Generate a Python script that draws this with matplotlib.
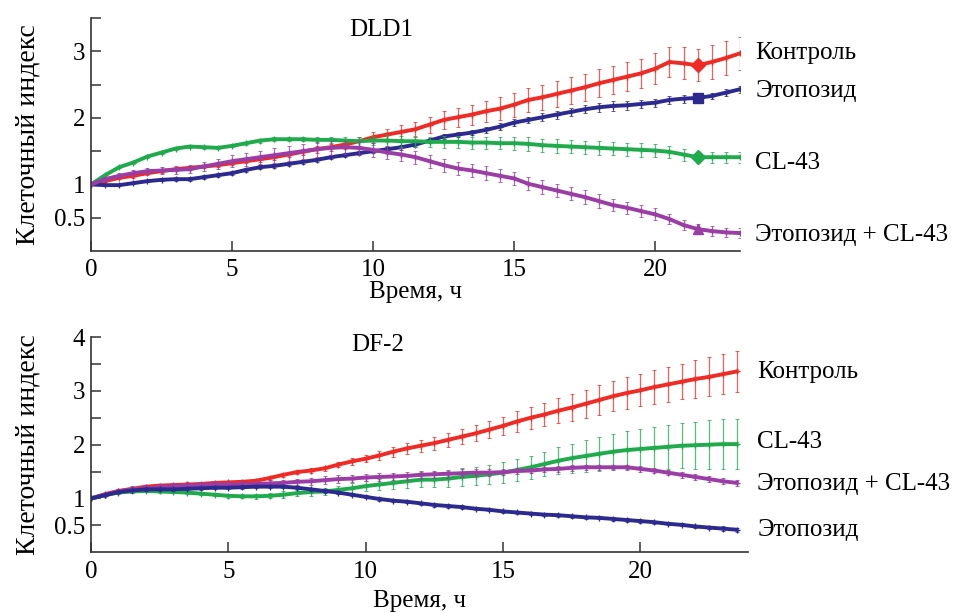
import matplotlib
matplotlib.use('Agg')
import matplotlib.pyplot as plt
import numpy as np

plt.rcParams['font.family'] = ['Liberation Serif', 'DejaVu Serif']
fs = 18

# --- DLD1, readings every 0.5 h from 0 to 23 h
t_dld = np.arange(0, 23.01, 0.5)
dld_ctrl = [1.00, 1.05, 1.10, 1.13, 1.17, 1.20, 1.23, 1.25, 1.27, 1.29,
            1.32, 1.35, 1.38, 1.41, 1.45, 1.49, 1.53, 1.56, 1.60, 1.65,
            1.71, 1.75, 1.79, 1.83, 1.90, 1.97, 2.01, 2.05, 2.10, 2.14,
            2.20, 2.27, 2.31, 2.36, 2.41, 2.46, 2.52, 2.57, 2.62, 2.67,
            2.74, 2.84, 2.82, 2.79, 2.84, 2.90, 2.97]
dld_ctrl_err = [0.01, 0.02, 0.02, 0.03, 0.03, 0.03, 0.03, 0.03, 0.03, 0.03,
                0.03, 0.03, 0.04, 0.04, 0.04, 0.04, 0.05, 0.05, 0.06, 0.07,
                0.08, 0.09, 0.10, 0.11, 0.12, 0.13, 0.14, 0.15, 0.16, 0.17,
                0.18, 0.18, 0.19, 0.19, 0.20, 0.20, 0.21, 0.21, 0.22, 0.22,
                0.23, 0.23, 0.24, 0.24, 0.25, 0.25, 0.25]
dld_etop = [1.00, 0.99, 0.99, 1.02, 1.05, 1.07, 1.08, 1.08, 1.11, 1.14,
            1.17, 1.22, 1.26, 1.28, 1.31, 1.34, 1.37, 1.41, 1.44, 1.47,
            1.50, 1.53, 1.56, 1.60, 1.66, 1.72, 1.75, 1.78, 1.82, 1.87,
            1.93, 1.97, 2.01, 2.05, 2.09, 2.13, 2.16, 2.18, 2.19, 2.21,
            2.23, 2.27, 2.29, 2.30, 2.33, 2.38, 2.43]
dld_etop_err = [0.01, 0.02, 0.02, 0.02, 0.02, 0.02, 0.03, 0.03, 0.03, 0.03,
                0.03, 0.03, 0.03, 0.03, 0.03, 0.03, 0.03, 0.03, 0.03, 0.03,
                0.03, 0.03, 0.04, 0.04, 0.04, 0.04, 0.04, 0.04, 0.05, 0.05,
                0.05, 0.05, 0.06, 0.06, 0.06, 0.06, 0.07, 0.07, 0.07, 0.06,
                0.06, 0.06, 0.06, 0.05, 0.05, 0.05, 0.05]
dld_cl = [1.00, 1.14, 1.26, 1.33, 1.42, 1.48, 1.54, 1.57, 1.56, 1.55,
          1.58, 1.62, 1.66, 1.68, 1.68, 1.68, 1.67, 1.67, 1.66, 1.65,
          1.66, 1.66, 1.65, 1.65, 1.64, 1.64, 1.64, 1.63, 1.63, 1.62,
          1.62, 1.61, 1.59, 1.58, 1.57, 1.56, 1.55, 1.54, 1.53, 1.52,
          1.51, 1.49, 1.45, 1.41, 1.41, 1.41, 1.41]
dld_cl_err = [0.01, 0.02, 0.02, 0.02, 0.02, 0.02, 0.02, 0.02, 0.02, 0.02,
              0.02, 0.02, 0.03, 0.03, 0.03, 0.03, 0.04, 0.05, 0.06, 0.07,
              0.07, 0.08, 0.08, 0.08, 0.08, 0.09, 0.09, 0.09, 0.09, 0.09,
              0.10, 0.10, 0.10, 0.10, 0.10, 0.10, 0.10, 0.10, 0.10, 0.10,
              0.10, 0.09, 0.09, 0.08, 0.08, 0.08, 0.08]
dld_mix = [1.00, 1.08, 1.13, 1.17, 1.20, 1.21, 1.22, 1.23, 1.27, 1.31,
           1.35, 1.38, 1.41, 1.44, 1.47, 1.50, 1.53, 1.55, 1.56, 1.55,
           1.52, 1.48, 1.45, 1.41, 1.35, 1.29, 1.24, 1.21, 1.17, 1.13,
           1.09, 1.01, 0.96, 0.91, 0.86, 0.81, 0.75, 0.69, 0.65, 0.60,
           0.55, 0.48, 0.39, 0.33, 0.30, 0.28, 0.27]
dld_mix_err = [0.01, 0.03, 0.04, 0.05, 0.05, 0.05, 0.06, 0.06, 0.07, 0.08,
               0.09, 0.10, 0.10, 0.11, 0.11, 0.11, 0.11, 0.11, 0.10, 0.10,
               0.10, 0.10, 0.10, 0.10, 0.10, 0.10, 0.10, 0.10, 0.10, 0.10,
               0.10, 0.10, 0.10, 0.10, 0.10, 0.10, 0.10, 0.09, 0.09, 0.09,
               0.09, 0.08, 0.08, 0.07, 0.07, 0.07, 0.07]

# --- DF-2, readings every 0.5 h from 0 to 23.5 h
t_df = np.arange(0, 23.51, 0.5)
df_ctrl = [1.00, 1.08, 1.14, 1.18, 1.22, 1.24, 1.25, 1.26, 1.27, 1.29,
           1.30, 1.31, 1.33, 1.38, 1.44, 1.49, 1.52, 1.56, 1.63, 1.69,
           1.74, 1.80, 1.87, 1.93, 1.98, 2.03, 2.09, 2.15, 2.21, 2.28,
           2.35, 2.43, 2.50, 2.56, 2.63, 2.69, 2.76, 2.83, 2.90, 2.96,
           3.01, 3.07, 3.12, 3.17, 3.22, 3.26, 3.31, 3.36]
df_ctrl_err = [0.01, 0.02, 0.02, 0.02, 0.02, 0.02, 0.03, 0.03, 0.03, 0.03,
               0.03, 0.03, 0.03, 0.03, 0.04, 0.04, 0.04, 0.05, 0.05, 0.06,
               0.07, 0.08, 0.09, 0.10, 0.11, 0.12, 0.13, 0.14, 0.15, 0.16,
               0.17, 0.19, 0.20, 0.22, 0.23, 0.25, 0.26, 0.27, 0.28, 0.29,
               0.30, 0.31, 0.32, 0.33, 0.35, 0.36, 0.37, 0.38]
df_cl = [1.00, 1.06, 1.11, 1.13, 1.14, 1.13, 1.12, 1.11, 1.09, 1.07,
         1.05, 1.04, 1.04, 1.05, 1.07, 1.10, 1.12, 1.13, 1.16, 1.19,
         1.23, 1.26, 1.29, 1.32, 1.35, 1.35, 1.37, 1.40, 1.42, 1.45,
         1.48, 1.53, 1.58, 1.64, 1.70, 1.75, 1.79, 1.83, 1.87, 1.90,
         1.92, 1.94, 1.96, 1.98, 1.99, 2.00, 2.01, 2.01]
df_cl_err = [0.01, 0.02, 0.02, 0.02, 0.02, 0.02, 0.02, 0.02, 0.03, 0.03,
             0.04, 0.04, 0.05, 0.05, 0.06, 0.06, 0.07, 0.07, 0.08, 0.09,
             0.10, 0.11, 0.12, 0.13, 0.14, 0.14, 0.15, 0.16, 0.17, 0.18,
             0.19, 0.20, 0.21, 0.23, 0.25, 0.27, 0.29, 0.31, 0.33, 0.35,
             0.37, 0.39, 0.41, 0.42, 0.44, 0.45, 0.46, 0.47]
df_mix = [1.00, 1.07, 1.13, 1.17, 1.19, 1.21, 1.23, 1.24, 1.25, 1.26,
          1.26, 1.26, 1.27, 1.28, 1.29, 1.31, 1.32, 1.34, 1.36, 1.37,
          1.39, 1.40, 1.41, 1.42, 1.44, 1.45, 1.46, 1.47, 1.48, 1.48,
          1.49, 1.51, 1.52, 1.54, 1.55, 1.57, 1.58, 1.58, 1.58, 1.58,
          1.55, 1.52, 1.48, 1.44, 1.40, 1.36, 1.32, 1.29]
df_mix_err = [0.01, 0.04, 0.05, 0.06, 0.06, 0.06, 0.06, 0.06, 0.06, 0.06,
              0.06, 0.06, 0.06, 0.06, 0.06, 0.06, 0.07, 0.07, 0.07, 0.07,
              0.07, 0.07, 0.07, 0.07, 0.07, 0.07, 0.07, 0.07, 0.06, 0.06,
              0.06, 0.05, 0.05, 0.05, 0.05, 0.05, 0.05, 0.05, 0.05, 0.05,
              0.05, 0.05, 0.05, 0.05, 0.06, 0.06, 0.06, 0.06]
df_etop = [1.00, 1.06, 1.12, 1.15, 1.17, 1.17, 1.17, 1.18, 1.19, 1.20,
           1.20, 1.21, 1.22, 1.22, 1.22, 1.20, 1.17, 1.14, 1.11, 1.07,
           1.03, 0.99, 0.96, 0.94, 0.91, 0.88, 0.86, 0.84, 0.81, 0.79,
           0.76, 0.74, 0.72, 0.70, 0.69, 0.67, 0.65, 0.64, 0.62, 0.60,
           0.58, 0.56, 0.53, 0.51, 0.48, 0.46, 0.44, 0.42]
df_etop_err = [0.01, 0.02, 0.02, 0.02, 0.03, 0.03, 0.03, 0.03, 0.03, 0.03,
               0.03, 0.03, 0.03, 0.03, 0.03, 0.03, 0.03, 0.03, 0.03, 0.03,
               0.03, 0.03, 0.03, 0.03, 0.03, 0.03, 0.03, 0.03, 0.03, 0.03,
               0.03, 0.03, 0.03, 0.03, 0.03, 0.03, 0.03, 0.03, 0.03, 0.03,
               0.03, 0.03, 0.03, 0.03, 0.03, 0.03, 0.04, 0.04]

c_red = '#ee2b25'
c_blue = '#2c2a8f'
c_green = '#1faa4c'
c_purple = '#9a3da4'

dld_series = [
    (dld_ctrl, dld_ctrl_err, c_red, 'D', 'Контроль', 2.97),
    (dld_etop, dld_etop_err, c_blue, 's', 'Этопозид', 2.40),
    (dld_cl, dld_cl_err, c_green, 'D', 'CL-43', 1.32),
    (dld_mix, dld_mix_err, c_purple, '^', 'Этопозид + CL-43', 0.24),
]
df_series = [
    (df_ctrl, df_ctrl_err, c_red, 'Контроль', 3.35),
    (df_cl, df_cl_err, c_green, 'CL-43', 2.05),
    (df_mix, df_mix_err, c_purple, 'Этопозид + CL-43', 1.26),
    (df_etop, df_etop_err, c_blue, 'Этопозид', 0.42),
]

fig = plt.figure(figsize=(9.6, 6.13), dpi=100)
ax1 = fig.add_axes([0.0948, 0.5905, 0.676, 0.380])
ax2 = fig.add_axes([0.0948, 0.099, 0.684, 0.3512])

mark_idx = 43  # t = 21.5 h

for vals, err, col, mk, name, ylab in dld_series:
    ax1.errorbar(t_dld, vals, yerr=err, color=col, ecolor=col, elinewidth=0.9,
                 capsize=1.5, capthick=0.7, alpha=0.75, linewidth=0)
    ax1.plot(t_dld, vals, color=col, linewidth=2.8, marker='+', markersize=5,
             markeredgewidth=1.0)
    ax1.plot(t_dld[mark_idx], vals[mark_idx], marker=mk, color=col, markersize=7)
    ax1.text(23.55, ylab, name, fontsize=fs, va='center', ha='left')

for vals, err, col, name, ylab in df_series:
    ax2.errorbar(t_df, vals, yerr=err, color=col, ecolor=col, elinewidth=0.9,
                 capsize=1.5, capthick=0.7, alpha=0.75, linewidth=0)
    ax2.plot(t_df, vals, color=col, linewidth=2.8, marker='+', markersize=5,
             markeredgewidth=1.0)
    ax2.text(24.25, ylab, name, fontsize=fs, va='center', ha='left')

ax1.set_xlim(0, 23)
ax1.set_ylim(0, 3.5)
ax1.set_yticks([0.5, 1, 1.5, 2, 2.5, 3, 3.5])
ax1.set_yticklabels(['0.5', '1', '', '2', '', '3', ''])
ax1.text(10.3, 3.32, 'DLD1', fontsize=fs, ha='center', va='center')
ax1.set_xlabel('Время, ч', fontsize=fs, labelpad=0)

ax2.set_xlim(0, 23.9)
ax2.set_ylim(0, 4)
ax2.set_yticks([0.5, 1, 1.5, 2, 2.5, 3, 3.5, 4])
ax2.set_yticklabels(['0.5', '1', '', '2', '', '3', '', '4'])
ax2.text(10.45, 3.85, 'DF-2', fontsize=fs, ha='center', va='center')
ax2.set_xlabel('Время, ч', fontsize=fs, labelpad=5)

for ax in (ax1, ax2):
    ax.set_xticks([0, 5, 10, 15, 20])
    ax.spines['top'].set_visible(False)
    ax.spines['right'].set_visible(False)
    for s in ('left', 'bottom'):
        ax.spines[s].set_color('#333333')
        ax.spines[s].set_linewidth(1.2)
    ax.tick_params(direction='in', length=7, width=1.1, color='#333333',
                   labelsize=fs, pad=6)
    ax.tick_params(axis='y', pad=4)
    ax.set_ylabel('Клеточный индекс', fontsize=20, labelpad=10)

fig.savefig('out.png', dpi=100)
